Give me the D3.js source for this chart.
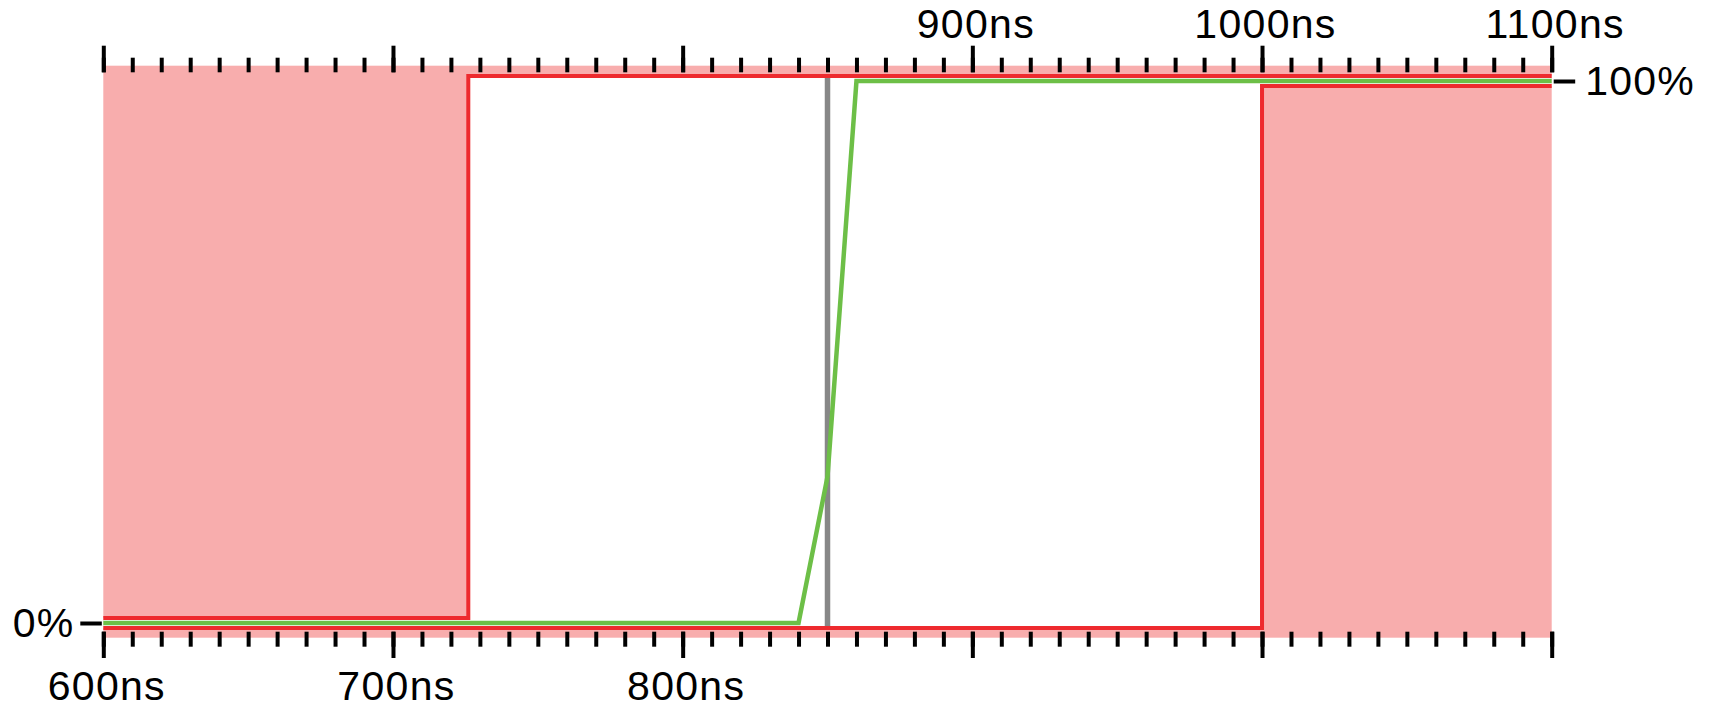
<!DOCTYPE html>
<html>
<head>
<meta charset="utf-8">
<script src="https://cdn.jsdelivr.net/npm/d3@7"></script>
<style>
  body { margin: 0; background: #fff; }
  #chartContainer { width: 1709px; height: 709px; }
  .axis text { font-family: "Liberation Sans", Arial, sans-serif; }
</style>
</head>
<body>
<div id="chartContainer"></div>
<script>
// envelope (mask) bounds, in ns and %
var upperTimes = [600, 726, 726, 1100];
var upperValues = [0.9, 0.9, 100.9, 100.9];
var lowerTimes = [600, 1000, 1000, 1100];
var lowerValues = [-0.9, -0.9, 99.1, 99.1];

// measured signal
var signalTimes = [600, 840, 850, 860, 1100];
var signalValues = [0, 0, 27, 100, 100];

// cursor
var markerTime = 850;

// tick labels
var topLabels = [900, 1000, 1100];
var bottomLabels = [600, 700, 800];
var yTicks = [0, 100];

function zip(ts, vs) {
  return ts.map(function(t, i) { return { t: t, v: vs[i] }; });
}

function drawChart() {
  var container = d3.select("#chartContainer");
  container.html("");
  var width = 1709;
  var height = 709;

  var svg = container.append("svg")
    .attr("width", width)
    .attr("height", height);

  var x = d3.scaleLinear()
    .domain([600, 1100])
    .range([103.3, 1551.7]);

  var y = d3.scaleLinear()
    .domain([0, 100])
    .range([623, 81]);

  var topY = 72.3;
  var bottomY = 631.7;

  // forbidden area
  svg.append("rect")
    .attr("x", x(600))
    .attr("y", 65.7)
    .attr("width", x(1100) - x(600))
    .attr("height", 637.7 - 65.7)
    .attr("fill", "#f8adad");

  var upper = zip(upperTimes, upperValues);
  var lower = zip(lowerTimes, lowerValues);

  var line = d3.line()
    .x(function(d) { return x(d.t); })
    .y(function(d) { return y(d.v); });

  // allowed area inside the envelope
  svg.append("path")
    .datum(upper.concat(lower.slice().reverse()))
    .attr("fill", "#fff")
    .attr("d", line);

  // cursor line
  svg.append("line")
    .attr("x1", x(markerTime))
    .attr("x2", x(markerTime))
    .attr("y1", y(100.9))
    .attr("y2", y(-0.9))
    .attr("stroke", "#878787")
    .attr("stroke-width", 5.5);

  // signal
  svg.append("path")
    .datum(zip(signalTimes, signalValues))
    .attr("fill", "none")
    .attr("stroke", "#6dbf47")
    .attr("stroke-width", 4.5)
    .attr("stroke-linejoin", "miter")
    .attr("d", line);

  // envelope outline
  [upper, lower].forEach(function(pts) {
    svg.append("path")
      .datum(pts)
      .attr("fill", "none")
      .attr("stroke", "#ee2a2e")
      .attr("stroke-width", 4)
      .attr("stroke-linejoin", "miter")
      .attr("d", line);
  });

  var minorTicks = x.ticks(50);
  var majorTicks = x.ticks(5);

  function addAxis(axisFn, posY, ticks, size, labels) {
    var g = svg.append("g")
      .attr("transform", "translate(0," + posY + ")")
      .classed("axis", true)
      .call(axisFn(x)
        .tickValues(ticks)
        .tickSize(size)
        .tickPadding(8)
        .tickFormat(function(d) { return labels.indexOf(d) >= 0 ? d + "ns" : ""; }));
    g.select(".domain").remove();
    g.selectAll(".tick line")
      .attr("stroke", "#000")
      .attr("stroke-width", 4);
    g.selectAll(".tick text")
      .attr("fill", "#000")
      .attr("dx", 3)
      .style("font-size", "41px")
      .style("letter-spacing", "1.3px");
    return g;
  }

  addAxis(d3.axisTop, topY, minorTicks, 14.6, []);
  var topMajor = addAxis(d3.axisTop, topY, majorTicks, 26.6, topLabels);
  topMajor.selectAll(".tick text").attr("y", -34).attr("dy", 0);

  addAxis(d3.axisBottom, bottomY, minorTicks, 15, []);
  var bottomMajor = addAxis(d3.axisBottom, bottomY, majorTicks, 26.3, bottomLabels);
  bottomMajor.selectAll(".tick text").attr("y", 68.5).attr("dy", 0);

  // y ticks: 0% on the left, 100% on the right
  var yLeft = svg.append("g")
    .attr("transform", "translate(" + (x(600) - 1.5) + ",0)")
    .classed("axis", true)
    .call(d3.axisLeft(y).tickValues([yTicks[0]]).tickSize(21.5).tickPadding(6)
      .tickFormat(function(d) { return d + "%"; }));
  var yRight = svg.append("g")
    .attr("transform", "translate(" + (x(1100) + 2) + ",0)")
    .classed("axis", true)
    .call(d3.axisRight(y).tickValues([yTicks[1]]).tickSize(21.5).tickPadding(10)
      .tickFormat(function(d) { return d + "%"; }));

  [yLeft, yRight].forEach(function(g) {
    g.select(".domain").remove();
    g.selectAll(".tick line")
      .attr("stroke", "#000")
      .attr("stroke-width", 4);
    g.selectAll(".tick text")
      .attr("fill", "#000")
      .style("font-size", "41px")
      .style("letter-spacing", "1.2px");
  });
}

drawChart();
</script>
</body>
</html>
